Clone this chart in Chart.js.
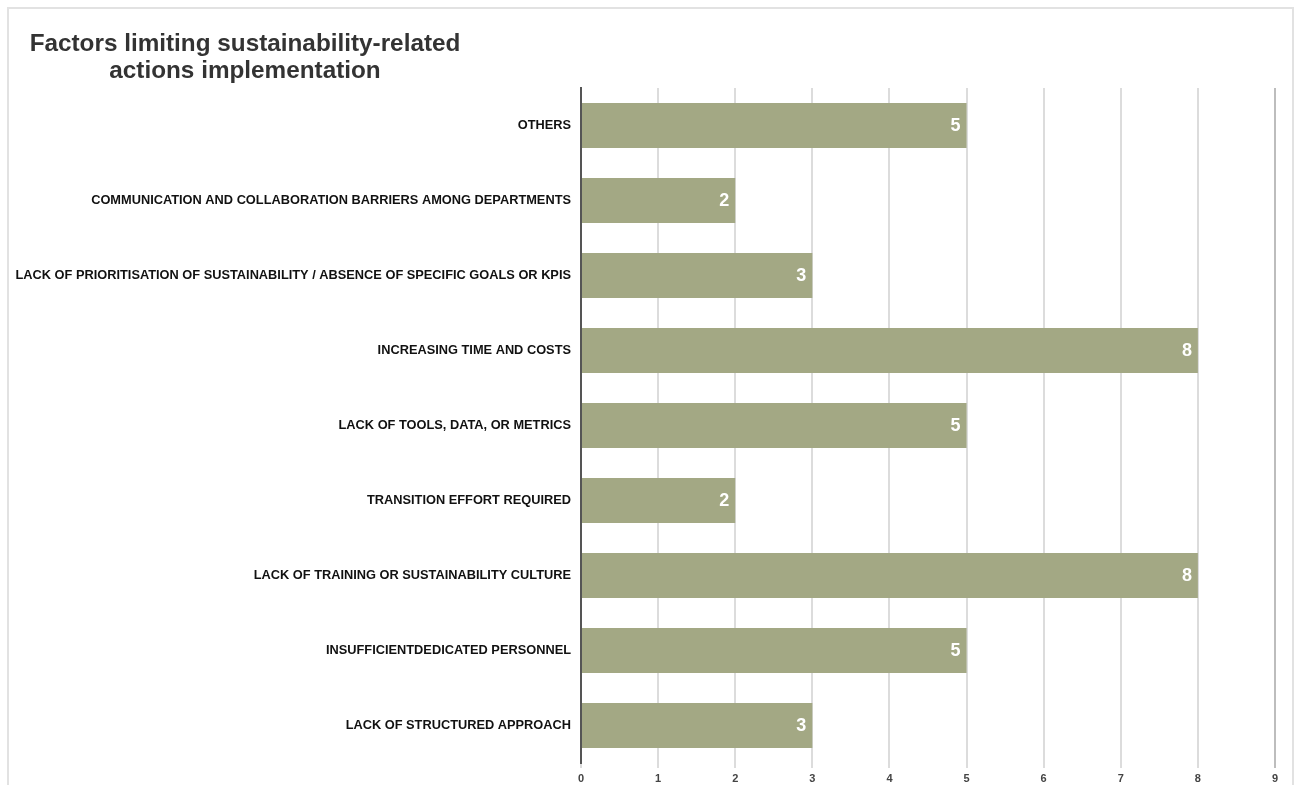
<!DOCTYPE html>
<html>
<head>
<meta charset="utf-8">
<script src="https://cdn.jsdelivr.net/npm/chart.js@4"></script>
<style>
    html, body { margin: 0; padding: 0; background: #fff; }
    #frame {
        position: absolute; left: 7px; top: 7px; width: 1283px; height: 800px;
        border: 2px solid #e2e2e2; border-bottom: none;
    }
    #wrap { position: absolute; left: 0; top: 0; width: 1297px; height: 785px; }
</style>
</head>
<body>
<div id="frame"></div>
<div id="wrap"><canvas id="chart"></canvas></div>
<script>
const categories = [
    'OTHERS',
    'COMMUNICATION AND COLLABORATION BARRIERS AMONG DEPARTMENTS',
    'LACK OF PRIORITISATION OF SUSTAINABILITY / ABSENCE OF SPECIFIC GOALS OR KPIS',
    'INCREASING TIME AND COSTS',
    'LACK OF TOOLS, DATA, OR METRICS',
    'TRANSITION EFFORT REQUIRED',
    'LACK OF TRAINING OR SUSTAINABILITY CULTURE',
    'INSUFFICIENTDEDICATED PERSONNEL',
    'LACK OF STRUCTURED APPROACH'
];
const counts = [5, 2, 3, 8, 5, 2, 8, 5, 3];
const titleLines = ['Factors limiting sustainability-related', 'actions implementation'];
const axisMax = 9;

// title drawn as two centred lines in the top-left corner
const titlePlugin = {
    id: 'leftTitle',
    afterDraw(chart) {
        const ctx = chart.ctx;
        ctx.save();
        ctx.font = 'bold 24.3px "Liberation Sans", Arial, sans-serif';
        ctx.fillStyle = '#333333';
        ctx.textAlign = 'center';
        ctx.textBaseline = 'alphabetic';
        ctx.fillText(titleLines[0], 245, 51);
        ctx.fillText(titleLines[1], 245, 78);
        ctx.restore();
    }
};

// white value labels at the end of each bar
const valueLabels = {
    id: 'valueLabels',
    afterDatasetsDraw(chart) {
        const ctx = chart.ctx;
        const meta = chart.getDatasetMeta(0);
        ctx.save();
        ctx.font = 'bold 18px "Liberation Sans", Arial, sans-serif';
        ctx.fillStyle = '#ffffff';
        ctx.textAlign = 'right';
        ctx.textBaseline = 'middle';
        meta.data.forEach((bar, i) => {
            ctx.fillText(String(counts[i]), bar.x - 6, bar.y + 1);
        });
        ctx.restore();
    }
};

new Chart(document.getElementById('chart'), {
    type: 'bar',
    data: {
        labels: categories,
        datasets: [{
            data: counts,
            backgroundColor: '#a3a884',
            borderWidth: 0,
            barPercentage: 0.6,
            categoryPercentage: 1
        }]
    },
    options: {
        indexAxis: 'y',
        responsive: true,
        maintainAspectRatio: false,
        animation: false,
        layout: { padding: { top: 88, right: 22, bottom: 0, left: 0 } },
        plugins: {
            legend: { display: false },
            title: { display: false },
            tooltip: { enabled: false }
        },
        scales: {
            x: {
                min: 0,
                max: axisMax,
                afterFit(scale) { scale.height = 22; },
                ticks: {
                    stepSize: 1,
                    padding: 4,
                    color: '#444444',
                    font: { family: '"Liberation Sans", Arial, sans-serif', size: 11, weight: 'bold' }
                },
                grid: {
                    color: (c) => c.tick && c.tick.value === axisMax ? '#bdbdbd' : '#dcdcdc',
                    lineWidth: 2,
                    drawTicks: true,
                    tickLength: 5
                },
                border: { display: false }
            },
            y: {
                afterFit(scale) { scale.width = 581; },
                ticks: {
                    padding: 10,
                    color: '#111111',
                    font: { family: '"Liberation Sans", Arial, sans-serif', size: 12.8, weight: 'bold' }
                },
                grid: { display: false, drawTicks: false },
                border: { display: true, color: '#555555', width: 2 }
            }
        }
    },
    plugins: [titlePlugin, valueLabels]
});
</script>
</body>
</html>
